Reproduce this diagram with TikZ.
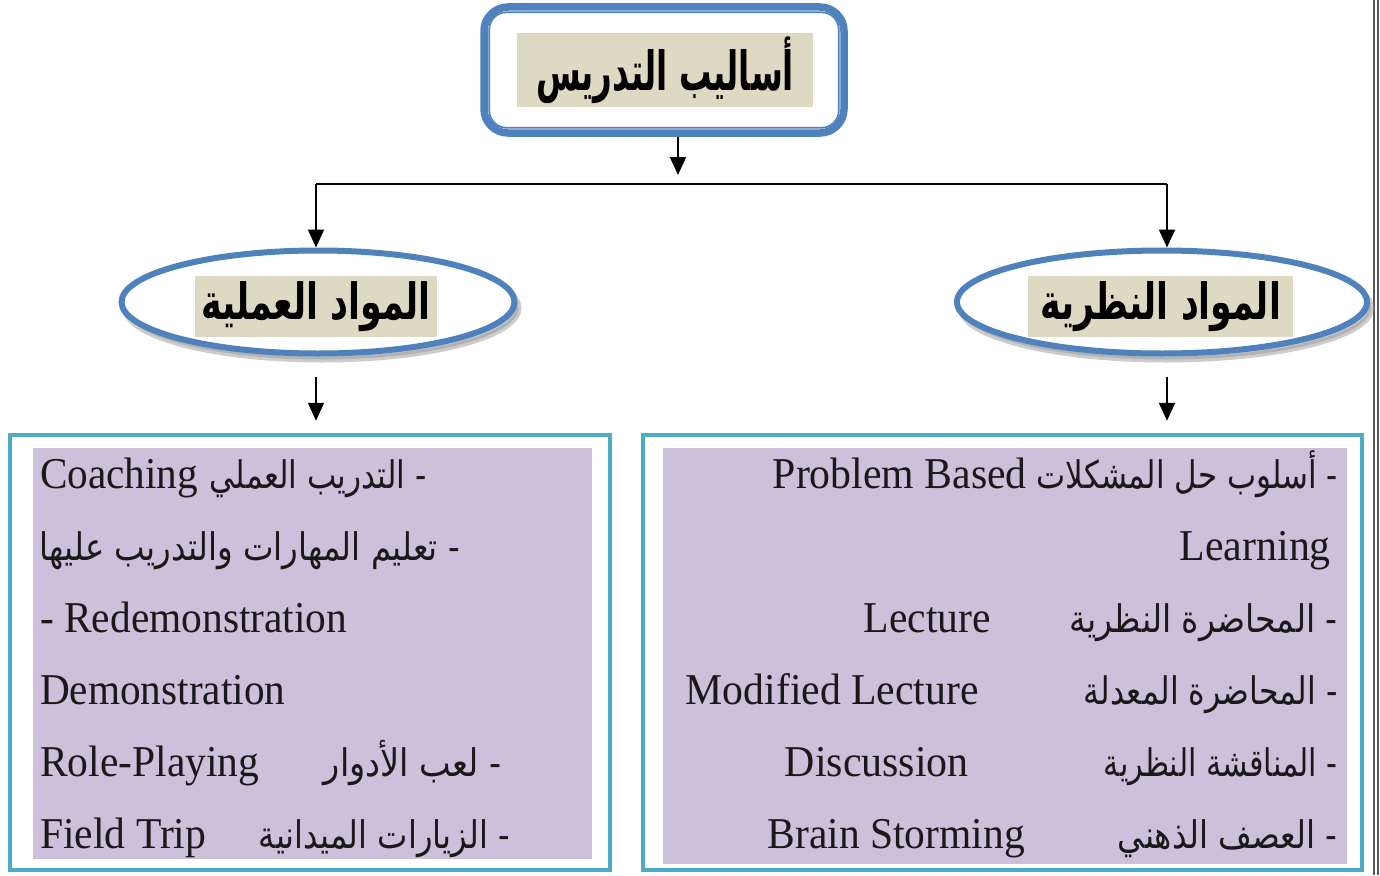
\documentclass[tikz,border=0pt]{standalone}
\usepackage{fontspec}
\usepackage{graphicx}
\setmainfont{Liberation Serif}
\newfontfamily\arfont[Script=Arabic]{DejaVu Sans}
\TeXXeTstate=1
\usetikzlibrary{arrows.meta,shapes.geometric,shadows}
\definecolor{ringblue}{RGB}{79,129,189}
\definecolor{tealb}{RGB}{75,172,198}
\definecolor{lav}{RGB}{204,192,218}
\definecolor{tanb}{RGB}{221,217,195}
\newcommand{\artxt}[2]{\resizebox{#1}{\height}{\arfont #2}}
\newcommand{\entxt}[2]{\resizebox{#1}{\height}{#2}}
\tikzset{
  conn/.style={line width=2pt, draw=black},
  arr/.style={conn, -{Triangle[width=16pt,length=18pt]}},
  lat/.style={font=\fontsize{44}{44}\selectfont, inner sep=0pt, text=black!90},
  arb/.style={font=\fontsize{38}{38}\selectfont, inner sep=0pt, text=black!90},
  topbox/.style={draw=ringblue, line width=7.5pt, rounded corners=24pt, fill=white, inner sep=0pt, minimum width=360pt, minimum height=126pt},
  ellnode/.style={ellipse, draw=ringblue, line width=6pt, fill=white, inner sep=0pt,
     drop shadow={shadow xshift=4pt, shadow yshift=-6pt, fill=black!40, draw=black!40, line width=6pt}},
  tanbox/.style={fill=tanb, inner sep=0pt, font=\bfseries\fontsize{50}{50}\selectfont},
  listbox/.style={draw=tealb, line width=4.5pt, fill=white, inner sep=0pt, minimum height=435pt},
}
\begin{document}
\begin{tikzpicture}[x=1pt,y=-1pt]
\useasboundingbox (0,0) rectangle (1380,875);

% page border on the right
\draw[black!65, line width=1.3pt] (1374,0) -- (1374,875);
\draw[black!65, line width=1.3pt] (1378,0) -- (1378,875);

% top box
\node[topbox] (top) at (664,70) {};
\draw[ringblue, line width=1.8pt, rounded corners=17pt] ([shift={(9pt,-9pt)}]top.north west) rectangle ([shift={(-9pt,9pt)}]top.south east);
\node[tanbox, font=\bfseries\fontsize{54}{54}\selectfont, minimum width=296pt, minimum height=74pt] (title) at (665,70) {\artxt{258pt}{\beginR أساليب التدريس\endR}};

% ellipses
\node[ellnode, minimum width=393pt, minimum height=103pt] (left) at (318,302) {};
\node[tanbox, minimum width=242pt, minimum height=61pt] (lt) at (316,306.5) {\artxt{230pt}{\beginR المواد العملية\endR}};
\node[ellnode, minimum width=410pt, minimum height=103pt] (right) at (1162,302) {};
\node[tanbox, minimum width=265pt, minimum height=61pt] (rt) at (1160.5,306.5) {\artxt{241pt}{\beginR المواد النظرية\endR}};

% list boxes
\node[listbox, minimum width=600pt] (lbox) at (310,652.5) {};
\fill[lav] ([shift={(25pt,-15pt)}]lbox.north west) rectangle ([shift={(-20pt,13pt)}]lbox.south east);
\node[listbox, minimum width=719pt] (rbox) at (1002.5,652.5) {};
\fill[lav] ([shift={(22pt,-15pt)}]rbox.north west) rectangle ([shift={(-17pt,8pt)}]rbox.south east);

% connectors
\coordinate (jt) at (678,175);
\coordinate (hl) at (316,184);
\coordinate (hr) at (1167,184);
\draw[arr] (top.south -| jt) -- (jt);
\draw[conn] (hl) -- (hr);
\draw[arr] (hl) -- (hl |- left.north);
\draw[arr] (hr) -- (hr |- right.north);
\coordinate (lb0) at (hl |- left.south);
\coordinate (lb1) at ([yshift=-20pt]lb0);
\coordinate (lb2) at (hl |- lbox.north);
\draw[arr] (lb1) -- ([yshift=12pt]lb2);
\coordinate (rb0) at (hr |- right.south);
\coordinate (rb1) at ([yshift=-20pt]rb0);
\coordinate (rb2) at (hr |- rbox.north);
\draw[arr] (rb1) -- ([yshift=12pt]rb2);

% left list
\node[lat, anchor=base west] (l1e) at (40,488) {\entxt{158pt}{Coaching}};
\node[arb, anchor=base east] (l1a) at (427,488) {\artxt{217pt}{\beginR - التدريب العملي\endR}};
\node[arb, anchor=base east] (l2a) at (460,560) {\artxt{420pt}{\beginR - تعليم المهارات والتدريب عليها\endR}};
\node[lat, anchor=base west] (l3e) at (40,632) {\entxt{307pt}{- Redemonstration}};
\node[lat, anchor=base west] (l4e) at (40,704) {\entxt{245pt}{Demonstration}};
\node[lat, anchor=base west] (l5e) at (40,776) {\entxt{219pt}{Role-Playing}};
\node[arb, anchor=base east] (l5a) at (502,776) {\artxt{178pt}{\beginR - لعب الأدوار\endR}};
\node[lat, anchor=base west] (l6e) at (40,848) {\entxt{166pt}{Field Trip}};
\node[arb, anchor=base east] (l6a) at (510,848) {\artxt{251pt}{\beginR - الزيارات الميدانية\endR}};

% right list
\node[arb, anchor=base east] (r1a) at (1338,488) {\artxt{301pt}{\beginR - أسلوب حل المشكلات\endR}};
\node[lat, anchor=base east] (r1e) at (1027,488) {\entxt{254pt}{Problem Based}};
\node[lat, anchor=base east] (r2e) at (1331,560) {\entxt{151pt}{Learning}};
\node[lat, anchor=base east] (r3e) at (991,632) {\entxt{127pt}{Lecture}};
\node[arb, anchor=base east] (r3a) at (1338,632) {\artxt{268pt}{\beginR - المحاضرة النظرية\endR}};
\node[lat, anchor=base east] (r4e) at (979,704) {\entxt{293pt}{Modified Lecture}};
\node[arb, anchor=base east] (r4a) at (1338,704) {\artxt{254pt}{\beginR - المحاضرة المعدلة\endR}};
\node[lat, anchor=base east] (r5e) at (969,776) {\entxt{184pt}{Discussion}};
\node[arb, anchor=base east] (r5a) at (1338,776) {\artxt{234pt}{\beginR - المناقشة النظرية\endR}};
\node[lat, anchor=base east] (r6e) at (1025,848) {\entxt{257pt}{Brain Storming}};
\node[arb, anchor=base east] (r6a) at (1338,848) {\artxt{220pt}{\beginR - العصف الذهني\endR}};
\end{tikzpicture}
\end{document}
